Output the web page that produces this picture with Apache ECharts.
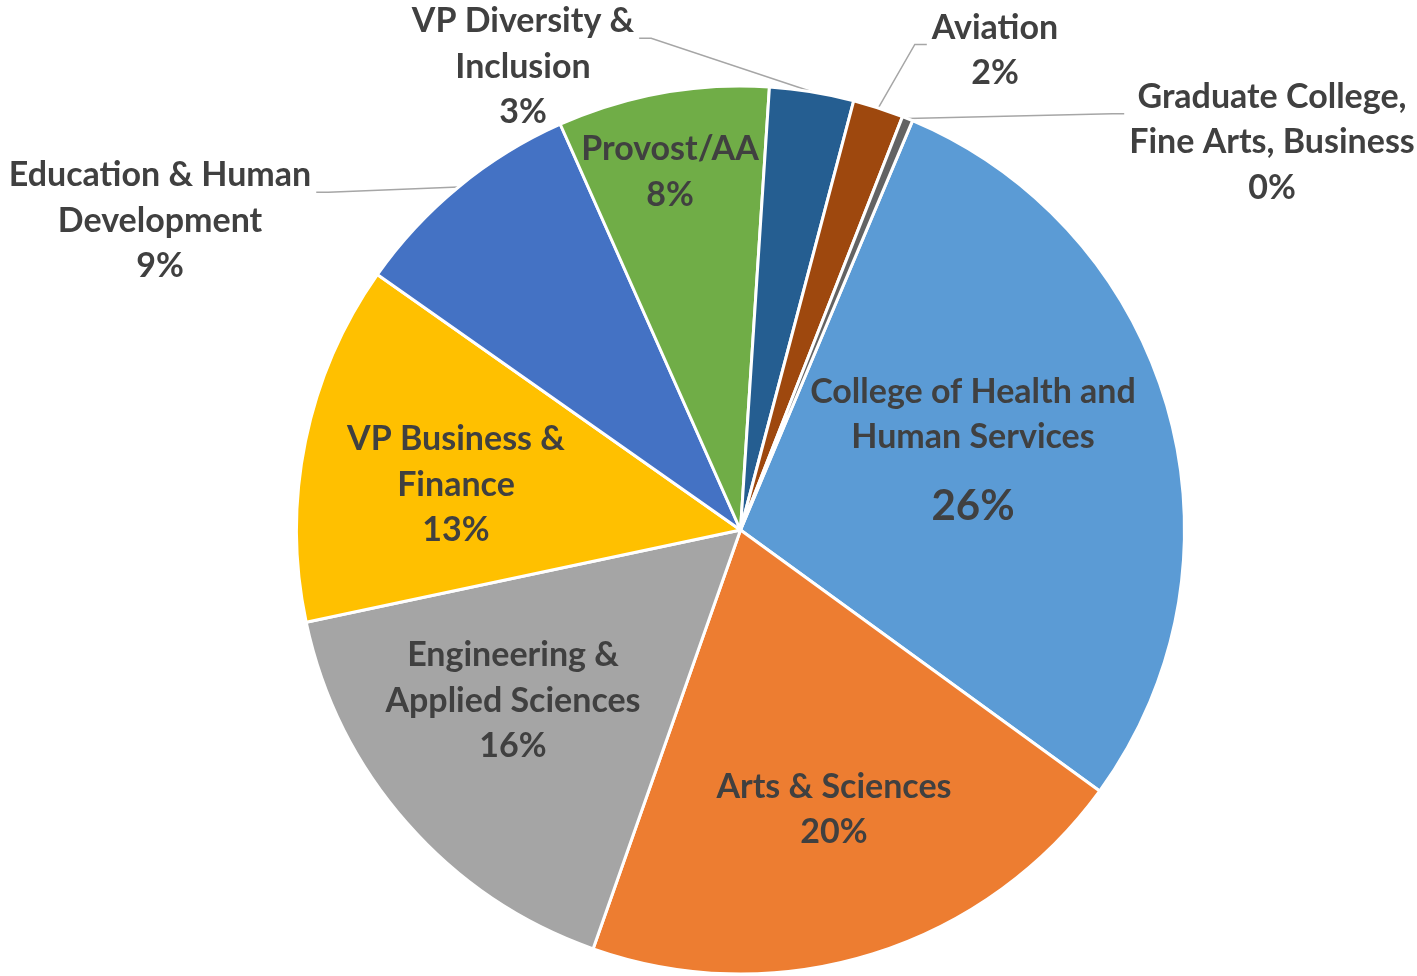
<!DOCTYPE html>
<html>
<head>
<meta charset="utf-8">
<script src="https://cdn.jsdelivr.net/npm/echarts@6/dist/echarts.min.js"></script>
<style>
  html, body { margin: 0; padding: 0; background: #fff; }
  #main { width: 1417px; height: 976px; }
</style>
</head>
<body>
<div id="main"></div>
<script>
// slice order follows the sheet, first slice starts a bit right of 12 o'clock
const categories = [
  'College of Health and Human Services',
  'Arts & Sciences',
  'Engineering & Applied Sciences',
  'VP Business & Finance',
  'Education & Human Development',
  'Provost/AA',
  'VP Diversity & Inclusion',
  'Aviation',
  'Graduate College, Fine Arts, Business'
];
const values = [28.7, 20.4, 16.3, 13.1, 8.6, 7.7, 3.07, 1.84, 0.39];
// percentages as printed on the chart
const shownPct = [26, 20, 16, 13, 9, 8, 3, 2, 0];
const labelText = [
  'College of Health and\nHuman Services',
  'Arts & Sciences',
  'Engineering &\nApplied Sciences',
  'VP Business &\nFinance',
  'Education & Human\nDevelopment',
  'Provost/AA',
  'VP Diversity &\nInclusion',
  'Aviation',
  'Graduate College,\nFine Arts, Business'
];
const colors = ['#5B9BD5', '#ED7D31', '#A5A5A5', '#FFC000', '#4472C4', '#70AD47', '#255E91', '#9E480E', '#636363'];

// label block centres (layout only)
const labelPos = [[973, 460.5], [834, 809.5], [513, 701], [456, 485], [160, 221], [670, 172], [523, 67], [995, 50.5], [1272, 142.5]];
const outside = [4, 6, 7, 8];
const LH = 45.5;

const chart = echarts.init(document.getElementById('main'));

const option = {
  backgroundColor: '#fff',
  animation: false,
  series: [{
    type: 'pie',
    center: [740.5, 530],
    radius: 444,
    startAngle: 67.2,
    clockwise: true,
    avoidLabelOverlap: false,
    emphasis: { disabled: true },
    itemStyle: { borderColor: '#fff', borderWidth: 3 },
    label: {
      formatter: function (p) {
        const i = p.dataIndex;
        return '{n|' + labelText[i] + '}\n{' + (i === 0 ? 'big' : 'n') + '|' + shownPct[i] + '%}';
      },
      rich: {
        n: { fontFamily: 'Lato', fontWeight: 'bold', fontSize: 34, lineHeight: LH, color: '#404040', align: 'center' },
        big: { fontFamily: 'Lato', fontWeight: 'bold', fontSize: 42, lineHeight: 91.5, color: '#404040', align: 'center' }
      }
    },
    labelLine: { lineStyle: { color: '#A6A6A6', width: 1.5 }, length: 15, length2: 15 },
    labelLayout: function (params) {
      const i = params.dataIndex;
      const p = labelPos[i];
      const res = { x: p[0], y: p[1], align: 'center', verticalAlign: 'middle' };
      if (outside.indexOf(i) >= 0 && params.labelLinePoints) {
        const start = params.labelLinePoints[0];
        const w = params.labelRect.width;
        const h = params.labelRect.height;
        const ay = p[1] - h / 2 + LH / 2 + 11;
        let ex, elbow;
        if (p[0] < start[0]) {
          ex = p[0] + w / 2 + 5;
          elbow = [ex + 12, ay];
        } else {
          ex = p[0] - w / 2 - 5;
          elbow = [ex - 12, ay];
        }
        res.labelLinePoints = [start, elbow, [ex, ay]];
      }
      return res;
    },
    data: categories.map(function (name, i) {
      const isOut = outside.indexOf(i) >= 0;
      return {
        name: name,
        value: values[i],
        itemStyle: { color: colors[i] },
        label: { position: isOut ? 'outside' : 'inside' },
        labelLine: { show: isOut }
      };
    })
  }]
};

option && chart.setOption(option);
</script>
</body>
</html>
